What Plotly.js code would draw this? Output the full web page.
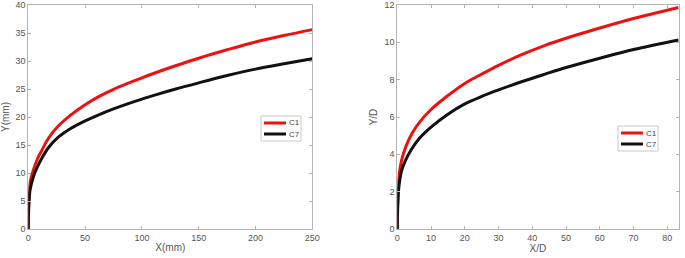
<!DOCTYPE html>
<html>
<head>
<meta charset="utf-8">
<script src="https://cdn.plot.ly/plotly-3.0.1.min.js"></script>
<style>html,body{margin:0;padding:0;background:#fff;}#chart{width:685px;height:258px;}</style>
</head>
<body>
<div id="chart"></div>
<script>
// Left panel: X(mm) vs Y(mm)
const xMm = [0, 0.1, 0.6, 1.5, 4.4, 8, 11.8, 18, 26.4, 37, 50, 62, 75, 88, 100, 112, 129, 150, 175, 200, 225, 250];
const c1Mm = [0, 3, 5.7, 8.2, 10.5, 12.5, 14.0, 16.3, 18.4, 20.3, 22.2, 23.65, 24.95, 26.05, 27.0, 27.9, 29.1, 30.5, 32.0, 33.4, 34.55, 35.6];
const c7Mm = [0, 2, 4.6, 6.9, 9.3, 11.1, 12.6, 14.6, 16.4, 17.9, 19.3, 20.4, 21.45, 22.4, 23.2, 23.95, 24.95, 26.1, 27.4, 28.55, 29.5, 30.4];
// Right panel: X/D vs Y/D
const xD = [0, 0.05, 0.2, 0.5, 1.3, 2.5, 4.3, 6.5, 10, 15, 20, 25, 30, 37, 43.8, 50, 60, 70, 83.33];
const c1D = [0, 1, 2, 2.8, 3.7, 4.4, 5.1, 5.7, 6.4, 7.15, 7.8, 8.3, 8.77, 9.35, 9.84, 10.22, 10.77, 11.28, 11.87];
const c7D = [0, 0.7, 1.5, 2.3, 3.14, 3.7, 4.3, 4.85, 5.46, 6.15, 6.7, 7.1, 7.45, 7.9, 8.3, 8.65, 9.15, 9.62, 10.13];
const seriesNames = ['C1', 'C7'];
const seriesColors = ['#ee1111', '#111111'];

const W = 685, H = 258;
const fontFam = 'Liberation Sans, Arial, sans-serif';
const axCol = '#b4b4b4';
const txtCol = '#555555';

function lineTrace(x, y, i, xa, ya) {
  return {x: x, y: y, name: seriesNames[i], type: 'scatter', mode: 'lines',
    line: {color: seriesColors[i], width: 3, shape: 'spline', smoothing: 1.0},
    xaxis: xa, yaxis: ya, showlegend: false};
}
const data = [
  lineTrace(xMm, c1Mm, 0, 'x', 'y'),
  lineTrace(xMm, c7Mm, 1, 'x', 'y'),
  lineTrace(xD, c1D, 0, 'x2', 'y2'),
  lineTrace(xD, c7D, 1, 'x2', 'y2')
];

function axis(extra) {
  return Object.assign({
    showline: true, linecolor: axCol, linewidth: 1, mirror: 'allticks',
    ticks: 'inside', ticklen: 3, tickcolor: axCol, showgrid: false, zeroline: false,
    tickfont: {family: fontFam, size: 9, color: txtCol}, fixedrange: true
  }, extra);
}
const yDomain = [29 / H, 1 - 5 / H];

// Legend boxes (compact, MATLAB-like), built from series names/colours
const shapes = [], annotations = [];
function addLegend(left, top) {
  const w = 40, h = 25;
  shapes.push({type: 'rect', xref: 'paper', yref: 'paper',
    x0: left / W, x1: (left + w) / W, y0: 1 - (top + h) / H, y1: 1 - top / H,
    line: {color: '#c8c8c8', width: 1}, fillcolor: '#ffffff', layer: 'above'});
  seriesNames.forEach(function (nm, i) {
    const yy = top + 7 + i * 11;
    shapes.push({type: 'line', xref: 'paper', yref: 'paper',
      x0: (left + 3) / W, x1: (left + 25) / W, y0: 1 - yy / H, y1: 1 - yy / H,
      line: {color: seriesColors[i], width: 3}, layer: 'above'});
    annotations.push({text: nm, xref: 'paper', yref: 'paper', x: (left + 26) / W, y: 1 - yy / H,
      xanchor: 'left', yanchor: 'middle', showarrow: false,
      font: {family: fontFam, size: 8, color: '#444'}});
  });
}
addLegend(261, 116);
addLegend(618, 126);

const layout = {
  width: W, height: H,
  margin: {l: 0, r: 0, t: 0, b: 0},
  paper_bgcolor: '#fff', plot_bgcolor: '#fff',
  showlegend: false,
  xaxis: axis({domain: [28.3 / W, 312.3 / W], range: [0, 250], tickvals: [0, 50, 100, 150, 200, 250],
    title: {text: 'X(mm)', font: {family: fontFam, size: 10, color: txtCol}, standoff: 2}, anchor: 'y'}),
  yaxis: axis({domain: yDomain, range: [0, 40], tickvals: [0, 5, 10, 15, 20, 25, 30, 35, 40],
    title: {text: 'Y(mm)', font: {family: fontFam, size: 10, color: txtCol}, standoff: 4}, anchor: 'x'}),
  xaxis2: axis({domain: [397.3 / W, 678.6 / W], range: [0, 83.33], tickvals: [0, 10, 20, 30, 40, 50, 60, 70, 80],
    title: {text: 'X/D', font: {family: fontFam, size: 10, color: txtCol}, standoff: 2}, anchor: 'y2'}),
  yaxis2: axis({domain: yDomain, range: [0, 12], tickvals: [0, 2, 4, 6, 8, 10, 12],
    title: {text: 'Y/D', font: {family: fontFam, size: 10, color: txtCol}, standoff: 4}, anchor: 'x2'}),
  shapes: shapes,
  annotations: annotations
};
Plotly.newPlot('chart', data, layout, {displayModeBar: false, staticPlot: true});
</script>
</body>
</html>
